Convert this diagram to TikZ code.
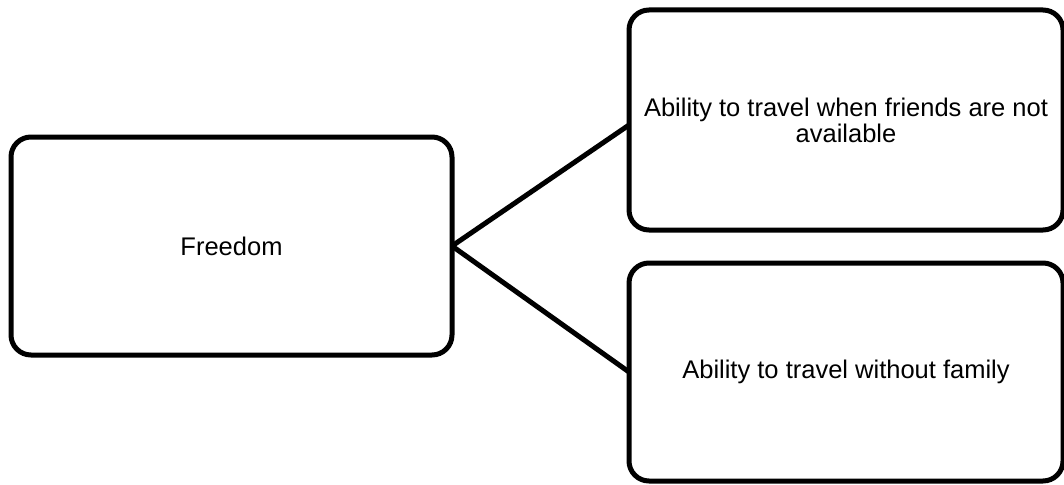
\documentclass[tikz,border=0pt]{standalone}
\usepackage{fontspec}
\setmainfont{Liberation Sans}
\begin{document}
\begin{tikzpicture}[x=1pt,y=-1pt,
  box/.style={draw=black, line width=5pt, rounded corners=20pt, inner sep=0pt, outer sep=0pt,
    align=flush center, font=\fontsize{25.5}{26}\selectfont},
  link/.style={draw=black, line width=5pt}]
\useasboundingbox (0,0) rectangle (1064,484);
\node[box, minimum width=441pt, minimum height=218pt] (f) at (231.5,246) {Freedom};
\node[box, minimum width=434pt, minimum height=220pt, text width=426pt] (a) at (846,120)
  {Ability to travel when friends are not available};
\node[box, minimum width=434pt, minimum height=218pt, text width=426pt] (b) at (846,372)
  {Ability to travel without family};
\draw[link] (f.east) -- ([yshift=-5pt]a.west);
\draw[link] (f.east) -- (b.west);
\end{tikzpicture}
\end{document}
